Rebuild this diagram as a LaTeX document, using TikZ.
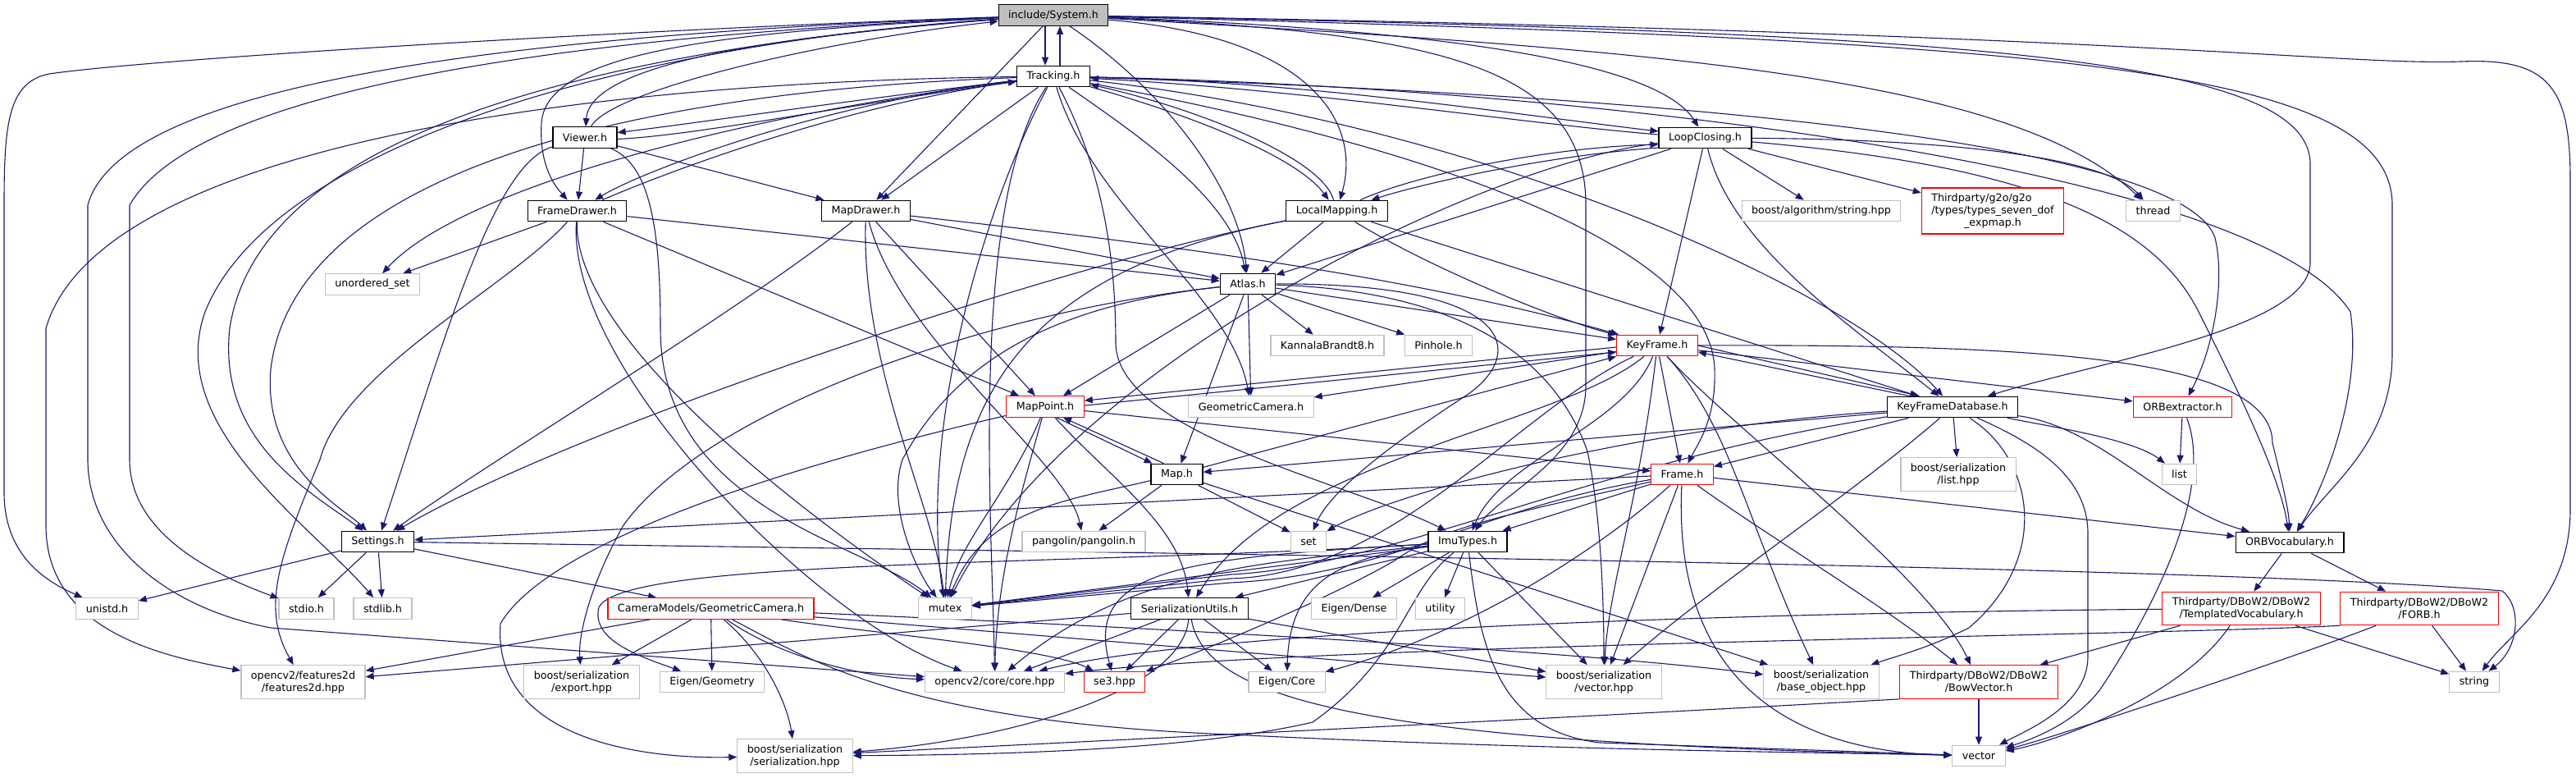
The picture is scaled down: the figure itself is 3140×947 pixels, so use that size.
\documentclass[tikz,border=0pt]{standalone}
\usepackage{fontspec}
\newfontfamily\dv{DejaVu Sans}
\usetikzlibrary{arrows.meta}
\definecolor{edgec}{RGB}{25,25,112}
\definecolor{grayb}{RGB}{191,191,191}
\pgfdeclarelayer{bg}
\pgfsetlayers{bg,main}
\tikzset{
  nd/.style={draw, line width=0.6pt, fill=white, font={\dv\fontsize{6.35}{7.5}\selectfont}, inner xsep=6pt, inner ysep=0pt, minimum height=12.75pt, align=center},
  blk/.style={nd, draw=black},
  gry/.style={nd, draw=grayb},
  rdn/.style={nd, draw=red},
  two/.style={minimum height=20.25pt},
  three/.style={minimum height=28pt},
  e/.style={draw=edgec, line width=0.55pt, -{Triangle[length=5pt,width=4pt]}}
}
\begin{document}
\begin{tikzpicture}[x=0.5pt,y=-0.5pt]
\useasboundingbox (0,0) rectangle (3140,947);
% nodes
\node[blk, fill=grayb] (S) at (1284,18.5) {include/System.h};
\node[blk] (T) at (1284,93) {Tracking.h};
\node[blk] (V) at (713,167.5) {Viewer.h};
\node[blk] (LC) at (2078.5,168) {LoopClosing.h};
\node[blk] (FD) at (703.5,257) {FrameDrawer.h};
\node[blk] (MD) at (1055.5,257) {MapDrawer.h};
\node[blk] (LM) at (1629.5,257) {LocalMapping.h};
\node[gry] (BAS) at (2220,257) {boost/algorithm/string.hpp};
\node[rdn, three] (G2O) at (2429,257) {\rlap{Thirdparty/g2o/g2o}\phantom{/types/types\_seven\_dof}\\/types/types\_seven\_dof\\\_expmap.h};
\node[gry] (THR) at (2624.5,257) {thread};
\node[gry] (US) at (454,346.5) {unordered\_set};
\node[blk] (AT) at (1521,346) {Atlas.h};
\node[gry] (KB8) at (1618,421) {KannalaBrandt8.h};
\node[gry] (PH) at (1753.5,421) {Pinhole.h};
\node[rdn] (KF) at (2020,421) {KeyFrame.h};
\node[rdn] (MP) at (1274,495.5) {MapPoint.h};
\node[gry] (GC) at (1525,495.5) {GeometricCamera.h};
\node[blk] (KFDB) at (2380,496) {KeyFrameDatabase.h};
\node[rdn] (ORBX) at (2660.5,496) {ORBextractor.h};
\node[blk] (MAP) at (1434.5,578) {Map.h};
\node[rdn] (FR) at (2050.5,578) {Frame.h};
\node[gry, two] (LHPP) at (2387,578) {boost/serialization\\/list.hpp};
\node[gry] (LIST) at (2656.5,578) {list};
\node[blk] (ST) at (460.5,660) {Settings.h};
\node[gry] (PANG) at (1321,660) {pangolin/pangolin.h};
\node[gry] (SET) at (1595,660) {set};
\node[blk] (IMU) at (1789,660) {ImuTypes.h};
\node[blk] (VOC) at (2791,661) {ORBVocabulary.h};
\node[gry] (UNI) at (130.5,741.5) {unistd.h};
\node[gry] (SIO) at (373.5,741.5) {stdio.h};
\node[gry] (SLB) at (466.5,741.5) {stdlib.h};
\node[rdn] (CGC) at (866.5,741.5) {CameraModels/GeometricCamera.h};
\node[gry] (MTX) at (1152,741.5) {mutex};
\node[blk] (SU) at (1450,741.5) {SerializationUtils.h};
\node[gry] (ED) at (1650.5,741.5) {Eigen/Dense};
\node[gry] (UT) at (1755.5,741.5) {utility};
\node[rdn, two] (TV) at (2732,741.5) {Thirdparty/DBoW2/DBoW2\\/TemplatedVocabulary.h};
\node[rdn, two] (FORB) at (2949,741.5) {Thirdparty/DBoW2/DBoW2\\/FORB.h};
\node[gry, two] (F2D) at (369.5,831) {opencv2/features2d\\/features2d.hpp};
\node[gry, two] (EXP) at (709,831) {boost/serialization\\/export.hpp};
\node[gry] (EG) at (868,831) {Eigen/Geometry};
\node[gry] (CORE) at (1212.5,831) {opencv2/core/core.hpp};
\node[rdn] (SE3) at (1358.5,831) {se3.hpp};
\node[gry] (EC) at (1568.5,831) {Eigen/Core};
\node[gry, two] (VHPP) at (1955,831) {boost/serialization\\/vector.hpp};
\node[gry, two] (BO) at (2220,831) {boost/serialization\\/base\_object.hpp};
\node[rdn, two] (BOW) at (2412,831) {Thirdparty/DBoW2/DBoW2\\/BowVector.h};
\node[gry] (STR) at (3016,831) {string};
\node[gry, two] (SER) at (969,921) {boost/serialization\\/serialization.hpp};
\node[gry] (VEC) at (2412,921) {vector};

\begin{pgfonlayer}{bg}
% System
\draw[e] ([xshift=-5pt]S.south) -- ([xshift=-5pt]T.north);
\draw[e] ([xshift=4pt]T.north) -- ([xshift=4pt]S.south);
\draw[e] (S) .. controls (1000,40) and (720,70) .. (V);
\draw[e] (S) .. controls (900,38) and (665,60) .. (660,150) .. controls (657,200) and (675,225) .. (FD);
\draw[e] (S) -- (MD);
\draw[e] (S) .. controls (1420,110) and (1510,230) .. (AT);
\draw[e] (S) .. controls (1600,45) and (1660,150) .. (LM);
\draw[e] (S) .. controls (1850,40) and (2030,90) .. (LC);
\draw[e] (S) .. controls (2400,40) and (2816,70) .. (2816,200) -- (2816,320) .. controls (2816,400) and (2560,440) .. (KFDB);
\draw[e] (S) .. controls (2500,50) and (2916,80) .. (2916,250) -- (2916,430) .. controls (2916,540) and (2840,590) .. (VOC);
\draw[e] (S) .. controls (2600,40) and (2850,80) .. (3000,75) .. controls (3110,70) and (3133,110) .. (3133,220) -- (3133,620) .. controls (3133,730) and (3060,770) .. (STR);
\draw[e] (S) .. controls (2000,60) and (2450,90) .. (THR);
\draw[e] (S) .. controls (1750,40) and (1933,80) .. (1933,250) -- (1933,470) .. controls (1933,560) and (1830,600) .. (IMU);
\draw[e] (S) .. controls (800,55) and (320,140) .. (280,400) .. controls (265,540) and (380,600) .. (ST);
\draw[e] (S) .. controls (800,35) and (200,70) .. (60,90) .. controls (10,100) and (5,150) .. (5,250) -- (5,600) .. controls (5,680) and (60,710) .. (UNI);
\draw[e] (S) .. controls (800,40) and (250,90) .. (158,250) -- (158,560) .. controls (158,650) and (260,700) .. (SIO);
\draw[e] (S) .. controls (750,55) and (330,180) .. (250,380) .. controls (200,520) and (380,640) .. (SLB);
\draw[e] (S) .. controls (700,40) and (150,90) .. (107,250) -- (107,560) .. controls (107,660) and (200,740) .. (330,765) -- (CORE);
% Tracking
\draw[e] (T) .. controls (1050,120) and (850,150) .. ([yshift=3pt]V.east);
\draw[e] ([yshift=-1pt]V.east) .. controls (850,165) and (1050,125) .. (T);
\draw[e] (T) .. controls (1000,125) and (780,210) .. (FD);
\draw[e] (FD) .. controls (800,215) and (1020,130) .. (T);
\draw[e] (T) -- (MD);
\draw[e] (T) .. controls (1380,160) and (1500,240) .. (AT);
\draw[e] (T) .. controls (1450,140) and (1580,190) .. (LM);
\draw[e] (LM) .. controls (1610,190) and (1450,130) .. (T);
\draw[e] (T) .. controls (1600,100) and (1850,140) .. ([yshift=4pt]LC.west);
\draw[e] ([yshift=2pt]LC.west) .. controls (1850,150) and (1600,110) .. (T);
\draw[e] (T) .. controls (1750,180) and (2085,300) .. (2090,450) .. controls (2092,510) and (2070,540) .. (FR);
\draw[e] (T) .. controls (1900,105) and (2750,200) .. (2865,380) .. controls (2880,480) and (2830,600) .. (VOC);
\draw[e] (T) .. controls (1800,150) and (2250,350) .. (KFDB);
\draw[e] (T) .. controls (2000,115) and (2660,170) .. (2700,290) .. controls (2712,340) and (2700,420) .. (ORBX);
\draw[e] (T) .. controls (1340,200) and (1360,300) .. (1360,420) .. controls (1365,530) and (1650,590) .. (IMU);
\draw[e] (T) .. controls (800,110) and (360,200) .. (330,450) .. controls (320,570) and (420,620) .. (ST);
\draw[e] (T) .. controls (1330,250) and (1500,360) .. (GC);
\draw[e] (T) .. controls (1200,250) and (1120,520) .. (MTX);
\draw[e] (T) .. controls (900,140) and (560,230) .. (US);
\draw[e] (T) .. controls (1180,250) and (1210,650) .. (CORE);
\draw[e] (T) .. controls (700,100) and (120,180) .. (56,400) -- (56,640) .. controls (56,770) and (200,800) .. (F2D);
% Viewer
\draw[e] (V) -- (FD);
\draw[e] (V) -- (MD);
\draw[e] (V) .. controls (745,110) and (1000,50) .. (S);
\draw[e] (V) .. controls (600,200) and (540,420) .. (ST);
\draw[e] (V) .. controls (790,200) and (805,270) .. (805,400) .. controls (805,620) and (1050,660) .. (MTX);
% FrameDrawer
\draw[e] (FD) -- (US);
\draw[e] (FD) -- (AT);
\draw[e] (FD) -- (MP);
\draw[e] (FD) .. controls (700,420) and (1000,640) .. (MTX);
\draw[e] (FD) .. controls (690,450) and (1000,760) .. (CORE);
\draw[e] (FD) .. controls (620,350) and (420,450) .. (390,560) .. controls (340,680) and (318,740) .. (F2D);
% MapDrawer
\draw[e] (MD) -- (AT);
\draw[e] (MD) -- (MP);
\draw[e] (MD) .. controls (1350,290) and (1700,330) .. (KF);
\draw[e] (MD) .. controls (900,380) and (600,560) .. (ST);
\draw[e] (MD) .. controls (1100,420) and (1300,560) .. (PANG);
\draw[e] (MD) .. controls (1050,450) and (1140,620) .. (MTX);
% LocalMapping
\draw[e] (LM) -- (AT);
\draw[e] (LM) .. controls (1750,330) and (1900,390) .. (KF);
\draw[e] (LM) .. controls (1720,215) and (1880,180) .. ([yshift=-4pt]LC.west);
\draw[e] ([yshift=-6pt]LC.west) .. controls (1880,190) and (1730,225) .. (LM);
\draw[e] (LM) -- (KFDB);
\draw[e] (LM) .. controls (1300,320) and (700,520) .. (ST);
\draw[e] (LM) .. controls (1250,330) and (1160,480) .. (MTX);
% LoopClosing
\draw[e] (LC) -- (KF);
\draw[e] (LC) -- (AT);
\draw[e] (LC) .. controls (2110,300) and (2260,400) .. (KFDB);
\draw[e] (LC) -- (BAS);
\draw[e] (LC) -- (G2O);
\draw[e] (LC) .. controls (2400,170) and (2570,195) .. (THR);
\draw[e] (LC) .. controls (2450,200) and (2620,260) .. (2680,380) .. controls (2720,460) and (2780,580) .. (VOC);
\draw[e] (LC) .. controls (1800,200) and (1300,450) .. (MTX);
% Atlas
\draw[e] (AT) -- (MAP);
\draw[e] (AT) -- (MP);
\draw[e] (AT) -- (KF);
\draw[e] (AT) -- (GC);
\draw[e] (AT) -- (PH);
\draw[e] (AT) -- (KB8);
\draw[e] (AT) .. controls (1850,345) and (1860,430) .. (1790,480) .. controls (1690,545) and (1620,600) .. (SET);
\draw[e] (AT) .. controls (1300,370) and (1170,430) .. (1100,560) .. controls (1080,620) and (1120,700) .. (MTX);
\draw[e] (AT) .. controls (1800,355) and (1900,450) .. (1935,550) .. controls (1950,620) and (1955,720) .. (VHPP);
\draw[e] (AT) .. controls (1200,380) and (860,500) .. (760,640) .. controls (715,720) and (705,780) .. (EXP);
% KeyFrame
\draw[e] ([yshift=-1pt]KF.west) -- ([yshift=-3pt]MP.north east);
\draw[e] ([yshift=-6pt]MP.north east) -- ([yshift=-4pt]KF.west);
\draw[e] (KF) -- (GC);
\draw[e] (KF) -- (FR);
\draw[e] (KF.east) -- ([xshift=-20pt]KFDB.north);
\draw[e] ([xshift=-26pt]KFDB.north) -- ([yshift=-4pt]KF.east);
\draw[e] (KF) -- (ORBX);
\draw[e] (KF) .. controls (2450,420) and (2770,430) .. (2770,540) .. controls (2785,600) and (2790,625) .. (VOC);
\draw[e] (KF) .. controls (1980,520) and (1830,560) .. (IMU);
\draw[e] (KF) .. controls (1900,520) and (1560,560) .. (SU);
\draw[e] (KF) .. controls (1850,500) and (1700,700) .. (1500,705) -- (MTX);
\draw[e] (KF) .. controls (2110,520) and (2130,640) .. (BO);
\draw[e] (KF) .. controls (2000,600) and (1960,720) .. (VHPP);
\draw[e] (KF) .. controls (2110,520) and (2350,700) .. (BOW);
% MapPoint
\draw[e] (MP) -- (FR);
\draw[e] ([xshift=7pt]MP.south) -- ([xshift=-15pt]MAP.north);
\draw[e] ([xshift=-8pt]MAP.north) -- ([xshift=11pt]MP.south);
\draw[e] (MP) .. controls (1350,580) and (1440,640) .. (SU);
\draw[e] (MP) .. controls (1245,600) and (1215,700) .. (CORE);
\draw[e] (MP) .. controls (1230,600) and (1170,660) .. (MTX);
\draw[e] (MP) .. controls (1080,540) and (680,640) .. (610,760) .. controls (600,900) and (780,925) .. (SER);
% Map
\draw[e] (MAP) -- (KF);
\draw[e] (MAP) -- (SET);
\draw[e] (MAP) -- (PANG);
\draw[e] (MAP) .. controls (1300,610) and (1200,620) .. (MTX);
\draw[e] (MAP) -- (BO);
% KeyFrameDatabase
\draw[e] (KFDB) -- (FR);
\draw[e] (KFDB) -- (MAP);
\draw[e] (KFDB) .. controls (2560,520) and (2640,620) .. (VOC);
\draw[e] (KFDB) .. controls (2500,520) and (2600,535) .. (LIST);
\draw[e] (KFDB) -- (LHPP);
\draw[e] (KFDB) .. controls (2480,540) and (2545,580) .. (2545,650) -- (2545,800) .. controls (2545,860) and (2470,890) .. (VEC);
\draw[e] (KFDB) .. controls (2480,560) and (2500,680) .. (2400,765) .. controls (2350,790) and (2310,800) .. (BO);
\draw[e] (KFDB) .. controls (2260,600) and (2080,720) .. (VHPP);
\draw[e] (KFDB) .. controls (2000,520) and (1700,600) .. (SET);
\draw[e] (KFDB) .. controls (1950,560) and (1700,690) .. (1500,700) -- (MTX);
% Frame
\draw[e] (FR) -- (ST);
\draw[e] (FR) -- (IMU);
\draw[e] (FR) -- (VOC);
\draw[e] (FR) .. controls (2150,650) and (2300,740) .. (BOW);
\draw[e] (FR) .. controls (2040,800) and (2150,915) .. (VEC);
\draw[e] (FR) .. controls (1800,620) and (1700,700) .. (1500,710) -- (MTX);
\draw[e] (FR) .. controls (1850,625) and (1760,640) .. (1700,683) .. controls (1620,730) and (1450,800) .. (SE3);
\draw[e] (FR) .. controls (1960,660) and (1800,770) .. (EC);
\draw[e] (FR) -- (VHPP);
% Settings
\draw[e] (ST) -- (UNI);
\draw[e] (ST) -- (SIO);
\draw[e] (ST) -- (SLB);
\draw[e] (ST) -- (CGC);
\draw[e] (ST) .. controls (1500,675) and (2700,690) .. (3050,720) .. controls (3075,740) and (3070,790) .. (STR);
% CameraModels/GeometricCamera
\draw[e] (CGC) -- (F2D);
\draw[e] (CGC) -- (EXP);
\draw[e] (CGC) -- (EG);
\draw[e] (CGC) .. controls (935,800) and (960,860) .. (SER);
\draw[e] (CGC) .. controls (950,800) and (1050,825) .. (CORE);
\draw[e] (CGC) .. controls (1050,770) and (1280,790) .. (SE3);
\draw[e] (CGC) -- (VHPP);
\draw[e] (CGC) .. controls (1300,760) and (1900,790) .. (BO);
\draw[e] (CGC) .. controls (980,800) and (1100,880) .. (1500,895) .. controls (1900,915) and (2300,918) .. (VEC);
% SerializationUtils
\draw[e] (SU) .. controls (1440,850) and (1200,905) .. (SER);
\draw[e] (SU) -- (VHPP);
\draw[e] (SU) -- (CORE);
\draw[e] (SU) -- (F2D);
\draw[e] (SU) -- (EC);
\draw[e] (SU) -- (SE3);
\draw[e] (SU) .. controls (1470,860) and (1700,905) .. (VEC);
% ImuTypes
\draw[e] (IMU) -- (ED);
\draw[e] (IMU) -- (UT);
\draw[e] (IMU) -- (SU);
\draw[e] (IMU) -- (VHPP);
\draw[e] (IMU) .. controls (1805,800) and (1830,890) .. (1950,905) -- (VEC);
\draw[e] (IMU) .. controls (1630,680) and (1572,710) .. (EC);
\draw[e] (IMU) .. controls (1450,680) and (1320,690) .. (SE3);
\draw[e] (IMU) .. controls (1550,685) and (1380,690) .. (CORE);
\draw[e] (IMU) -- (MTX);
\draw[e] (IMU) .. controls (1712,720) and (1712,800) .. (1600,880) .. controls (1450,915) and (1200,920) .. (SER);
\draw[e] (IMU) .. controls (1300,690) and (760,680) .. (730,740) .. controls (720,780) and (780,800) .. (EG);
% TemplatedVocabulary
\draw[e] (TV) -- (BOW);
\draw[e] (TV) .. controls (2660,850) and (2500,905) .. (VEC);
\draw[e] (TV) -- (STR);
\draw[e] (TV) .. controls (2300,745) and (1500,760) .. (CORE);
% FORB
\draw[e] (FORB) .. controls (2800,800) and (2500,900) .. (VEC);
\draw[e] (FORB) -- (STR);
\draw[e] (FORB.south west) .. controls (2600,775) and (1600,785) .. (CORE);
% BowVector
\draw[e] (BOW) -- (VEC);
\draw[e] (BOW.south west) .. controls (2000,870) and (1300,905) .. (SER);
% ORBextractor
\draw[e] (ORBX) -- (LIST);
\draw[e] (ORBX) .. controls (2700,600) and (2620,750) .. (2560,840) .. controls (2530,880) and (2480,900) .. (VEC);
% ORBVocabulary
\draw[e] (VOC) -- (TV);
\draw[e] (VOC) -- (FORB);
\end{pgfonlayer}
\end{tikzpicture}
\end{document}
